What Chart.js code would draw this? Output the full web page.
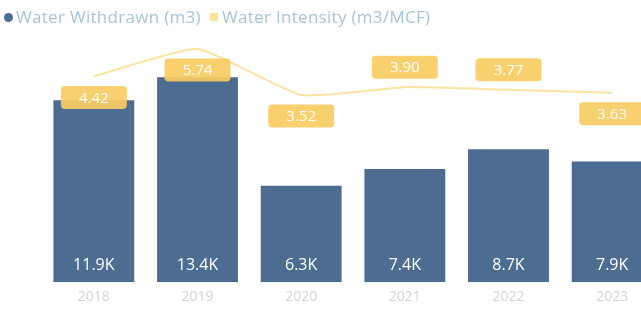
<!DOCTYPE html>
<html>
<head>
<meta charset="utf-8">
<script src="https://cdn.jsdelivr.net/npm/chart.js@4/dist/chart.umd.min.js"></script>
<style>
html,body{margin:0;padding:0;background:#fff;overflow:hidden;}
#wrap{width:664px;height:315px;position:relative;}
#legend{position:absolute;left:0;top:6px;height:22px;font:17px "Open Sans",sans-serif;color:#a8c4d6;white-space:nowrap;z-index:2;}
#legend span.item{position:absolute;top:0;line-height:22px;letter-spacing:0.3px;}
#legend i{position:absolute;display:block;}
</style>
</head>
<body>
<div id="wrap"><div id="legend"></div><canvas id="c"></canvas></div>
<script>
const categories = ["2018", "2019", "2020", "2021", "2022", "2023"];
const waterWithdrawn = [11900, 13400, 6300, 7400, 8700, 7900];
const withdrawnLabels = ["11.9K", "13.4K", "6.3K", "7.4K", "8.7K", "7.9K"];
const waterIntensity = [4.42, 5.74, 3.52, 3.90, 3.77, 3.63];
const intensityLabelSide = ["below", "below", "below", "above", "above", "below"];

const labelPlugin = {
  id: 'customLabels',
  afterDatasetsDraw(chart) {
    const ctx = chart.ctx;
    ctx.save();
    const barMeta = chart.getDatasetMeta(0);
    ctx.font = '16px "Open Sans", sans-serif';
    ctx.fillStyle = '#ffffff';
    ctx.textAlign = 'center';
    ctx.textBaseline = 'middle';
    barMeta.data.forEach((el, i) => {
      ctx.fillText(withdrawnLabels[i], el.x, el.base - 17);
    });
    const lineMeta = chart.getDatasetMeta(1);
    lineMeta.data.forEach((el, i) => {
      const w = 66, h = 23;
      const cy = intensityLabelSide[i] === 'below' ? el.y + 21 : el.y - 20;
      ctx.fillStyle = 'rgba(249,204,98,0.92)';
      ctx.beginPath();
      ctx.roundRect(el.x - w / 2, cy - h / 2, w, h, 4);
      ctx.fill();
      ctx.fillStyle = '#ffffff';
      ctx.font = '15px "Open Sans", sans-serif';
      ctx.fillText(waterIntensity[i].toFixed(2), el.x, cy + 1);
    });
    ctx.restore();
  }
};

const chart = new Chart(document.getElementById('c'), {
  data: {
    labels: categories,
    datasets: [
      {
        type: 'bar',
        label: 'Water Withdrawn (m3)',
        data: waterWithdrawn,
        backgroundColor: '#4c6d91',
        yAxisID: 'y',
        order: 2,
        categoryPercentage: 1,
        barPercentage: 0.78
      },
      {
        type: 'line',
        label: 'Water Intensity (m3/MCF)',
        data: waterIntensity,
        borderColor: '#fae4a0',
        backgroundColor: '#fbe49a',
        borderWidth: 2,
        pointRadius: 0,
        tension: 0.15,
        yAxisID: 'y2',
        order: 1
      }
    ]
  },
  options: {
    responsive: true,
    maintainAspectRatio: false,
    animation: false,
    layout: { padding: { left: 0, right: 0, top: 36, bottom: 4 } },
    plugins: {
      legend: { display: false },
      tooltip: { enabled: false }
    },
    scales: {
      x: {
        grid: { display: false, drawTicks: false },
        border: { display: false },
        ticks: { color: '#d4d4d4', font: { size: 14, family: '"Open Sans", sans-serif' }, padding: 6 }
      },
      y: {
        min: 0,
        max: 16100,
        display: true,
        grid: { display: false, drawTicks: false },
        border: { display: false },
        ticks: { display: false },
        afterFit(a) { a.width = 42; }
      },
      y2: {
        min: -5.52,
        max: 6.37,
        display: false
      }
    }
  },
  plugins: [labelPlugin]
});

// HTML legend built from the chart's datasets
(function buildLegend() {
  const leg = document.getElementById('legend');
  const markers = [
    { left: 3.5, top: 6.5, w: 9, h: 9, r: '50%' },
    { left: 210, top: 7, w: 8, h: 8, r: '0' }
  ];
  const textLeft = [16, 222];
  chart.data.datasets.forEach((ds, i) => {
    const m = document.createElement('i');
    m.style.left = markers[i].left + 'px';
    m.style.top = markers[i].top + 'px';
    m.style.width = markers[i].w + 'px';
    m.style.height = markers[i].h + 'px';
    m.style.borderRadius = markers[i].r;
    m.style.background = ds.backgroundColor;
    leg.appendChild(m);
    const s = document.createElement('span');
    s.className = 'item';
    s.style.left = textLeft[i] + 'px';
    s.textContent = ds.label;
    leg.appendChild(s);
  });
})();
</script>
</body>
</html>
